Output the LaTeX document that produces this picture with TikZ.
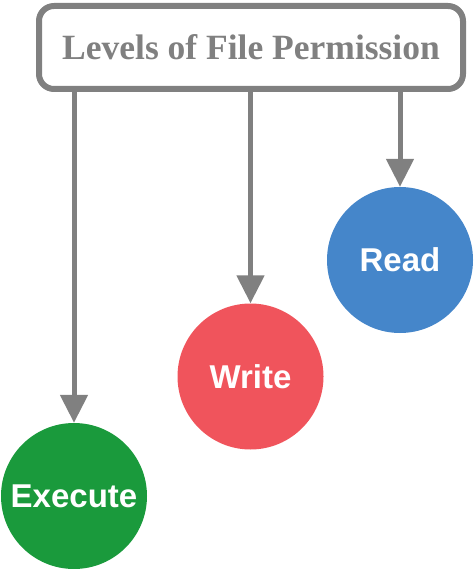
\documentclass[tikz,border=0pt]{standalone}
\usepackage{fontspec}
\setmainfont{Liberation Serif}
\setsansfont{Liberation Sans}
\usetikzlibrary{arrows.meta,positioning}
\definecolor{permgray}{HTML}{808080}
\definecolor{execgreen}{HTML}{1A9A3C}
\definecolor{writered}{HTML}{F0545C}
\definecolor{readblue}{HTML}{4586CA}
\tikzset{
title/.style = {draw=permgray, line width=6pt, fill=white, rounded corners=15pt, minimum width=424pt, minimum height=83pt, text=permgray, font=\fontsize{35.5}{40}\selectfont\bfseries},
perm/.style  = {circle, minimum size=146pt, inner sep=0pt, text=white, font=\sffamily\bfseries\fontsize{33}{38}\selectfont},
link/.style  = {draw=permgray, line width=5pt}
}
\begin{document}
\begin{tikzpicture}[x=1pt, y=-1pt, >={Triangle[length=28pt,width=27pt]}, node distance=2cm]
\useasboundingbox (0,0) rectangle (474,569);

                \node [perm, fill=execgreen] (exec) at (74,496) {Execute};
                \node [perm, fill=writered, on grid, above right=119.5pt and 176.5pt of exec] (write) {Write};
                \node [perm, fill=readblue, on grid, above right=116.5pt and 149.5pt of write] (read) {Read};
                \node [title] (title) at (251,47.5) {Levels of File Permission};

                \draw [link,->] (title.south -| exec) -- (exec.north);
                \draw [link,->] (title.south -| write) -- (write.north);
                \draw [link,->] (title.south -| read) -- (read.north);
            \end{tikzpicture}
\end{document}
